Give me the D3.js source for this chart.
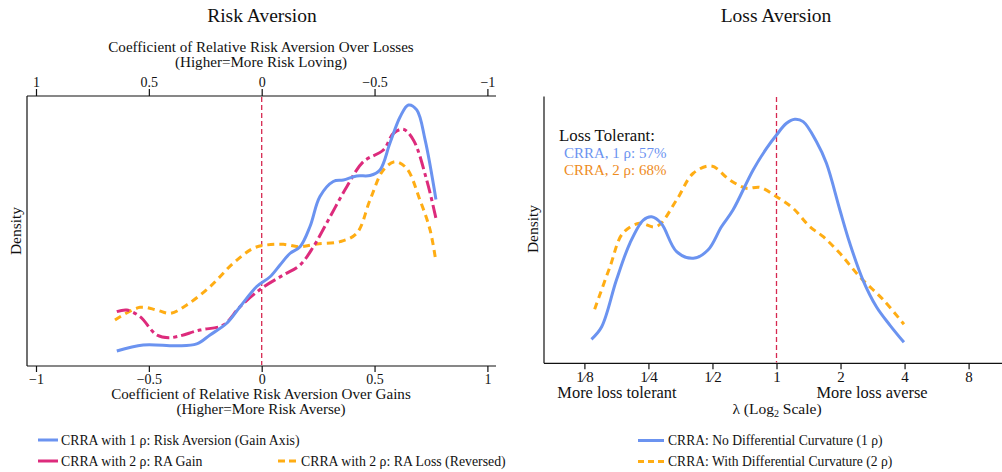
<!DOCTYPE html>
<html>
<head>
<meta charset="utf-8">
<script src="https://cdn.jsdelivr.net/npm/d3@7"></script>
<style>
  body { margin: 0; background: #fff; }
  svg { display: block; font-family: "Liberation Serif", "DejaVu Serif", serif; }
</style>
</head>
<body>
<svg id="chart" width="1002" height="472"></svg>
<script>
// ---- Risk aversion panel: kernel densities ----
// CRRA with one rho, plotted on the gain coefficient
const gainOneRhoX = [-0.642, -0.525, -0.377, -0.288, -0.229, -0.155, -0.096, -0.022, 0.037, 0.081, 0.125, 0.17, 0.214, 0.258, 0.317, 0.362, 0.421, 0.48, 0.524, 0.568, 0.613, 0.65, 0.687, 0.724, 0.772];
const gainOneRhoD = [0.10, 0.14, 0.135, 0.147, 0.207, 0.285, 0.395, 0.53, 0.595, 0.673, 0.75, 0.795, 0.93, 1.13, 1.23, 1.24, 1.267, 1.27, 1.307, 1.485, 1.66, 1.74, 1.707, 1.507, 1.11];
// CRRA with two rho, gain coefficient
const gainTwoRhoX = [-0.642, -0.598, -0.539, -0.465, -0.406, -0.273, -0.17, -0.096, 0.0, 0.096, 0.17, 0.229, 0.303, 0.377, 0.45, 0.539, 0.583, 0.627, 0.672, 0.731, 0.772];
const gainTwoRhoD = [0.362, 0.373, 0.329, 0.207, 0.189, 0.24, 0.273, 0.395, 0.518, 0.607, 0.673, 0.795, 0.995, 1.195, 1.362, 1.44, 1.55, 1.578, 1.507, 1.24, 0.985];
// CRRA with two rho, loss coefficient (drawn on the reversed loss axis)
const lossTwoRhoX = [0.65, 0.539, 0.465, 0.406, 0.332, 0.229, 0.126, 0.037, -0.022, -0.096, -0.17, -0.244, -0.347, -0.421, -0.48, -0.539, -0.591, -0.642, -0.701, -0.746, -0.772];
const lossTwoRhoD = [0.307, 0.391, 0.373, 0.351, 0.407, 0.529, 0.685, 0.785, 0.807, 0.811, 0.795, 0.813, 0.829, 0.885, 1.107, 1.307, 1.362, 1.318, 1.107, 0.907, 0.695];

const raTicks = [-1, -0.5, 0, 0.5, 1];

// ---- Loss aversion panel: densities over log2(lambda) ----
const lambdaOneRhoX = [-2.89, -2.73, -2.50, -2.29, -2.08, -1.95, -1.80, -1.56, -1.30, -1.07, -0.86, -0.68, -0.365, -0.156, 0.0, 0.156, 0.286, 0.416, 0.625, 0.78, 0.99, 1.145, 1.35, 1.56, 1.77, 1.99];
const lambdaOneRhoD = [0.16, 0.244, 0.555, 0.80, 0.955, 0.977, 0.933, 0.744, 0.70, 0.755, 0.91, 1.022, 1.289, 1.433, 1.522, 1.60, 1.627, 1.611, 1.477, 1.333, 1.022, 0.80, 0.555, 0.377, 0.255, 0.14];
const lambdaTwoRhoX = [-2.84, -2.60, -2.40, -2.14, -1.875, -1.56, -1.30, -1.016, -0.73, -0.47, -0.26, 0.0, 0.26, 0.52, 0.73, 0.99, 1.30, 1.67, 1.99];
const lambdaTwoRhoD = [0.36, 0.644, 0.867, 0.933, 0.911, 1.089, 1.267, 1.315, 1.222, 1.167, 1.173, 1.111, 1.033, 0.911, 0.844, 0.733, 0.577, 0.422, 0.26];

const lambdaTicks = [-3, -2, -1, 0, 1, 2, 3];
const lambdaTickLabels = ["1\u20448", "1\u20444", "1\u20442", "1", "2", "4", "8"];
const lossTolerantShares = ["CRRA, 1 \u03c1: 57%", "CRRA, 2 \u03c1: 68%"];

const C = {
  blue: "#6b93f0",
  magenta: "#dd2b7c",
  orange: "#ffad14",
  orangeText: "#ee8c1e",
  ref: "#d62850",
  ink: "#111"
};

const svg = d3.select("#chart");
const pts = (xs, ds) => xs.map((x, i) => [x, ds[i]]);

function text(g, x, y, s, opts = {}) {
  return g.append("text").attr("x", x).attr("y", y)
    .attr("text-anchor", opts.anchor || "middle")
    .attr("font-size", opts.size || 14)
    .attr("fill", opts.fill || C.ink)
    .text(s);
}

// ================= Left panel =================
{
  const g = svg.append("g");
  const x = d3.scaleLinear().domain([-1, 1]).range([36, 487.4]);
  const xTop = d3.scaleLinear().domain([1, -1]).range([36, 487.4]);
  const y = d3.scaleLinear().domain([0, 1.8]).range([366, 96]);
  const left = 27, right = 496;

  text(g, 262, 22, "Risk Aversion", { size: 19.5 });

  // frame lines
  g.append("line").attr("x1", left).attr("x2", right).attr("y1", 96).attr("y2", 96).attr("stroke", C.ink).attr("stroke-width", 1.2);
  g.append("line").attr("x1", left).attr("x2", right).attr("y1", 366).attr("y2", 366).attr("stroke", C.ink).attr("stroke-width", 1.2);
  g.append("line").attr("x1", left).attr("x2", left).attr("y1", 96).attr("y2", 366).attr("stroke", C.ink).attr("stroke-width", 1.2);

  // axes
  const fmt = d => d === 0 ? "0" : (d < 0 ? "\u2212" + Math.abs(d) : String(d));
  const bottom = g.append("g").attr("transform", "translate(0,366)")
    .call(d3.axisBottom(x).tickValues(raTicks).tickSize(6).tickFormat(fmt));
  const top = g.append("g").attr("transform", "translate(0,96)")
    .call(d3.axisTop(xTop).tickValues(raTicks).tickSize(7).tickFormat(fmt));
  [bottom, top].forEach(a => {
    a.select(".domain").remove();
    a.selectAll(".tick line").attr("stroke", C.ink).attr("stroke-width", 1.2);
    a.selectAll(".tick text").attr("font-size", 14).attr("font-family", "Liberation Serif").attr("fill", C.ink);
  });
  bottom.selectAll(".tick text").attr("dy", "0.71em").attr("y", 8);
  top.selectAll(".tick text").attr("y", -9);

  text(g, 261, 52, "Coefficient of Relative Risk Aversion Over Losses", { size: 15.1 });
  text(g, 261, 67, "(Higher=More Risk Loving)", { size: 15.1 });
  text(g, 261, 399, "Coefficient of Relative Risk Aversion Over Gains", { size: 15.1 });
  text(g, 261, 414, "(Higher=More Risk Averse)", { size: 15.1 });

  g.append("text").attr("transform", "translate(21,231) rotate(-90)")
    .attr("text-anchor", "middle").attr("font-size", 15.5).attr("fill", C.ink).text("Density");

  // reference line at zero
  g.append("line").attr("x1", x(0)).attr("x2", x(0)).attr("y1", 97).attr("y2", 365)
    .attr("stroke", C.ref).attr("stroke-width", 1.3).attr("stroke-dasharray", "5,3");

  const lineG = d3.line().x(d => x(d[0])).y(d => y(d[1])).curve(d3.curveCatmullRom.alpha(0.5));
  const lineL = d3.line().x(d => xTop(d[0])).y(d => y(d[1])).curve(d3.curveCatmullRom.alpha(0.5));

  g.append("path").datum(pts(lossTwoRhoX, lossTwoRhoD)).attr("d", lineL)
    .attr("fill", "none").attr("stroke", C.orange).attr("stroke-width", 3).attr("stroke-dasharray", "7,5");
  g.append("path").datum(pts(gainTwoRhoX, gainTwoRhoD)).attr("d", lineG)
    .attr("fill", "none").attr("stroke", C.magenta).attr("stroke-width", 3).attr("stroke-dasharray", "13,4,4,4");
  g.append("path").datum(pts(gainOneRhoX, gainOneRhoD)).attr("d", lineG)
    .attr("fill", "none").attr("stroke", C.blue).attr("stroke-width", 3);

  // legend
  const leg = [
    { x: 38, y: 440, c: C.blue, dash: null, label: "CRRA with 1 \u03c1: Risk Aversion (Gain Axis)" },
    { x: 38, y: 461, c: C.magenta, dash: null, label: "CRRA with 2 \u03c1: RA Gain" },
    { x: 278, y: 461, c: C.orange, dash: "7,4", label: "CRRA with 2 \u03c1: RA Loss (Reversed)" }
  ];
  leg.forEach(l => {
    g.append("line").attr("x1", l.x).attr("x2", l.x + 20).attr("y1", l.y).attr("y2", l.y)
      .attr("stroke", l.c).attr("stroke-width", 3).attr("stroke-dasharray", l.dash);
    text(g, l.x + 23, l.y + 4.5, l.label, { anchor: "start", size: 13.8 });
  });
}

// ================= Right panel =================
{
  const g = svg.append("g");
  const x = d3.scaleLinear().domain([-3, 3]).range([584.4, 968.6]);
  const y = d3.scaleLinear().domain([0, 1.78]).range([363.3, 96.3]);
  const left = 544, right = 1002;

  text(g, 776, 22, "Loss Aversion", { size: 19.5 });

  g.append("line").attr("x1", left).attr("x2", right).attr("y1", 363.3).attr("y2", 363.3).attr("stroke", C.ink).attr("stroke-width", 1.2);
  g.append("line").attr("x1", left).attr("x2", left).attr("y1", 96.5).attr("y2", 363.3).attr("stroke", C.ink).attr("stroke-width", 1.2);

  const ax = g.append("g").attr("transform", "translate(0,363.3)")
    .call(d3.axisBottom(x).tickValues(lambdaTicks).tickSize(6).tickFormat((d, i) => lambdaTickLabels[i]));
  ax.select(".domain").remove();
  ax.selectAll(".tick line").attr("stroke", C.ink).attr("stroke-width", 1.2);
  ax.selectAll(".tick text").attr("font-size", 15).attr("font-family", "Liberation Serif").attr("fill", C.ink)
    .attr("y", 8).attr("dy", "0.71em");

  text(g, 617, 398, "More loss tolerant", { size: 16.4 });
  text(g, 872, 398, "More loss averse", { size: 16.4 });
  const lt = g.append("text").attr("x", 777).attr("y", 414).attr("text-anchor", "middle")
    .attr("font-size", 15.5).attr("fill", C.ink);
  lt.append("tspan").text("\u03bb (Log");
  lt.append("tspan").attr("font-size", 10).attr("dy", 3).text("2");
  lt.append("tspan").attr("dy", -3).text(" Scale)");

  g.append("text").attr("transform", "translate(538,229) rotate(-90)")
    .attr("text-anchor", "middle").attr("font-size", 15.5).attr("fill", C.ink).text("Density");

  g.append("line").attr("x1", x(0)).attr("x2", x(0)).attr("y1", 97).attr("y2", 362.5)
    .attr("stroke", C.ref).attr("stroke-width", 1.3).attr("stroke-dasharray", "5,3");

  const line = d3.line().x(d => x(d[0])).y(d => y(d[1])).curve(d3.curveCatmullRom.alpha(0.5));
  g.append("path").datum(pts(lambdaTwoRhoX, lambdaTwoRhoD)).attr("d", line)
    .attr("fill", "none").attr("stroke", C.orange).attr("stroke-width", 3).attr("stroke-dasharray", "7,5");
  g.append("path").datum(pts(lambdaOneRhoX, lambdaOneRhoD)).attr("d", line)
    .attr("fill", "none").attr("stroke", C.blue).attr("stroke-width", 3);

  text(g, 559, 141, "Loss Tolerant:", { anchor: "start", size: 16.8 });
  text(g, 564, 158, lossTolerantShares[0], { anchor: "start", size: 15, fill: C.blue });
  text(g, 564, 175, lossTolerantShares[1], { anchor: "start", size: 15, fill: C.orangeText });

  const leg = [
    { y: 440.5, c: C.blue, dash: null, label: "CRRA: No Differential Curvature (1 \u03c1)" },
    { y: 461.5, c: C.orange, dash: "6,4", label: "CRRA: With Differential Curvature (2 \u03c1)" }
  ];
  leg.forEach(l => {
    g.append("line").attr("x1", 638).attr("x2", 664).attr("y1", l.y).attr("y2", l.y)
      .attr("stroke", l.c).attr("stroke-width", 3).attr("stroke-dasharray", l.dash);
    text(g, 668, l.y + 4.5, l.label, { anchor: "start", size: 13.6 });
  });
}
</script>
</body>
</html>
